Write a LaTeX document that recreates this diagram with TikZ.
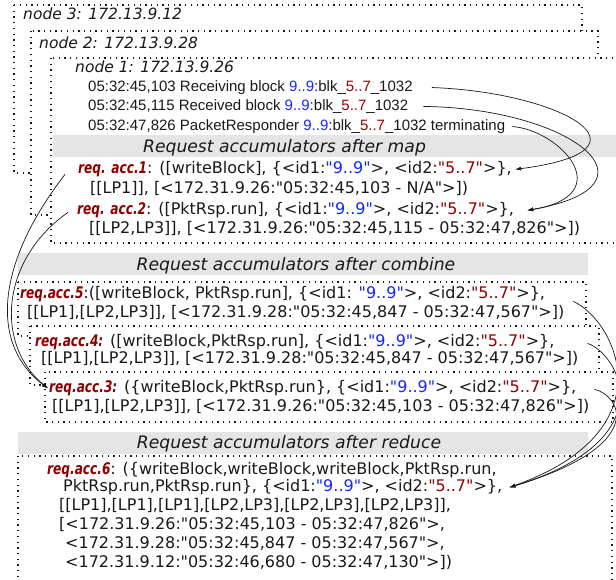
\documentclass[tikz,border=0pt]{standalone}
\usepackage{fontspec}
\usetikzlibrary{arrows.meta}
\newfontfamily\dv{DejaVu Sans}
\newfontfamily\dvnarrow[FakeStretch=0.76]{DejaVu Sans}
\newfontfamily\lib{Liberation Sans}
\definecolor{accred}{RGB}{140,0,0}
\definecolor{idblue}{RGB}{20,40,255}
\definecolor{idred}{RGB}{150,0,0}
\definecolor{bandgray}{RGB}{229,229,229}
\definecolor{ink}{RGB}{25,25,25}
\newcommand\idb[1]{\textcolor{idblue}{#1}}
\newcommand\idr[1]{\textcolor{idred}{#1}}
\newcommand\accl[1]{\textcolor{accred}{\dvnarrow\bfseries\itshape #1}}
\newcommand\accfont{\dv\fontsize{16}{19}\selectfont}
\newcommand\logfont{\lib\fontsize{15}{18}\selectfont}
\newcommand\lblfont{\dv\itshape\fontsize{15.5}{18}\selectfont}
\newcommand\ttlfont{\dv\itshape\fontsize{17.2}{20}\selectfont}
\begin{document}
\begin{tikzpicture}[x=1pt,y=-1pt,
  box/.style={draw=ink, fill=white, line width=1.3pt, dash pattern=on 1.3pt off 4.4pt},
  band/.style={fill=bandgray},
  txt/.style={anchor=base west, inner sep=0pt, font=\accfont, text=ink},
  logt/.style={anchor=base west, inner sep=0pt, font=\logfont, text=ink},
  lbl/.style={anchor=base west, inner sep=0pt, font=\lblfont, text=ink},
  ttl/.style={anchor=base, inner sep=0pt, font=\ttlfont, text=ink},
  conn/.style={draw=ink, line width=0.7pt, -{Latex[length=6pt,width=4pt]}}]
\useasboundingbox (0,0) rectangle (616,579);
\clip (0,0) rectangle (616,579);
% node boxes
\draw[box] (14,5) rectangle (582,173);
\draw[box] (31,31) rectangle (598,215);
\draw[box] (51,58) rectangle (640,243);
\fill[band] (53,135) rectangle (640,157);
\node[lbl] (n3) at (23,19.6) {node 3: 172.13.9.12};
\node[lbl] (n2) at (39,48.6) {node 2: 172.13.9.28};
\node[lbl] (n1) at (75,72.6) {node 1: 172.13.9.26};
\node[logt] (l1) at (88,91.4) {05:32:45,103 Receiving block \idb{9..9}:blk\_\idr{5..7}\_1032};
\node[logt] (l2) at (88,110.4) {05:32:45,115 Received block \idb{9..9}:blk\_\idr{5..7}\_1032};
\node[logt] (l3) at (88,130.4) {05:32:47,826 PacketResponder \idb{9..9}:blk\_\idr{5..7}\_1032 terminating};
\node[ttl] (tmap) at (284.5,152.2) {Request accumulators after map};
\node[txt] (a1a) at (78,173.8) {\accl{req. acc.1}: ([writeBlock], \{<id1:\idb{"9..9"}>, <id2:\idr{"5..7"}>\},};
\node[txt] (a1b) at (90,193.8) {[[LP1]], [<172.31.9.26:"05:32:45,103 - N/A">])};
\node[txt] (a2a) at (77,214.8) {\accl{req. acc.2}: ([PktRsp.run], \{<id1:\idb{"9..9"}>, <id2:\idr{"5..7"}>\},};
\node[txt] (a2b) at (89,233.8) {[[LP2,LP3]], [<172.31.9.26:"05:32:45,115 - 05:32:47,826">])};
% combine
\fill[band] (18,253) rectangle (588,275);
\node[ttl] (tcomb) at (296,270.2) {Request accumulators after combine};
\draw[box] (18,282) rectangle (586,336);
\node[txt] (a5a) at (20,298.8) {\accl{req.acc.5}:([writeBlock, PktRsp.run], \{<id1: \idb{"9..9"}>, <id2:\idr{"5..7"}>\},};
\node[txt] (a5b) at (27,317.8) {[[LP1],[LP2,LP3]], [<172.31.9.28:"05:32:45,847 - 05:32:47,567">])};
\draw[box] (30,326) rectangle (599,385);
\node[txt] (a4a) at (35,346.8) {\accl{req.acc.4:} ([writeBlock,PktRsp.run], \{<id1:\idb{"9..9"}>, <id2:\idr{"5..7"}>\},};
\node[txt] (a4b) at (41,363.8) {[[LP1],[LP2,LP3]], [<172.31.9.28:"05:32:45,847 - 05:32:47,567">])};
\draw[box] (45,372) rectangle (613,422);
\node[txt] (a3a) at (49,392.8) {\accl{req.acc.3:} (\{writeBlock,PktRsp.run\}, \{<id1:\idb{"9..9"}>, <id2:\idr{"5..7"}>\},};
\node[txt] (a3b) at (52,411.8) {[[LP1],[LP2,LP3]], [<172.31.9.26:"05:32:45,103 - 05:32:47,826">])};
% reduce
\fill[band] (18,432) rectangle (588,454);
\node[ttl] (tred) at (289,448.2) {Request accumulators after reduce};
\draw[box] (18,456) rectangle (612,600);
\node[txt] (a6a) at (47,474.8) {\accl{req.acc.6}: (\{writeBlock,writeBlock,writeBlock,PktRsp.run,};
\node[txt] (a6b) at (63,491.8) {PktRsp.run,PktRsp.run\}, \{<id1:\idb{"9..9"}>, <id2:\idr{"5..7"}>\},};
\node[txt] (a6c) at (59,510.8) {[[LP1],[LP1],[LP1],[LP2,LP3],[LP2,LP3],[LP2,LP3]],};
\node[txt] (a6d) at (59,529.8) {[<172.31.9.26:"05:32:45,103 - 05:32:47,826">,};
\node[txt] (a6e) at (65,548.8) {<172.31.9.28:"05:32:45,847 - 05:32:47,567">,};
\node[txt] (a6f) at (65,567.8) {<172.31.9.12:"05:32:46,680 - 05:32:47,130">])};
% map connectors
\draw[conn] ([xshift=19pt]l1.east) .. controls (560,92) and (665,150) .. ([xshift=3pt]a1a.east);
\draw[conn] ([xshift=15pt]l2.east) .. controls (570,108) and (670,185) .. ([xshift=13pt]a2a.east);
\draw[conn] ([xshift=7pt]l3.east) .. controls (560,130) and (620,195) .. ([xshift=13pt]a2a.east);
% combine connectors
\draw[conn] ([shift={(-13pt,-5pt)}]a1a.west) .. controls (-5,265) and (-10,345) .. ([xshift=-1pt]a3a.west);
\draw[conn] ([shift={(-9pt,-2pt)}]a2a.west) .. controls (0,260) and (-5,345) .. ([xshift=-1pt]a3a.west);
% reduce connectors
\draw[conn] ([shift={(28pt,-7pt)}]a5a.east) .. controls (615,320) and (670,430) .. ([xshift=7pt]a6b.east);
\draw[conn] ([shift={(33pt,-1pt)}]a4a.east) .. controls (620,355) and (665,440) .. ([xshift=7pt]a6b.east);
\draw[conn] ([shift={(18pt,-1pt)}]a3a.east) .. controls (620,395) and (650,445) .. ([xshift=7pt]a6b.east);
\end{tikzpicture}
\end{document}
